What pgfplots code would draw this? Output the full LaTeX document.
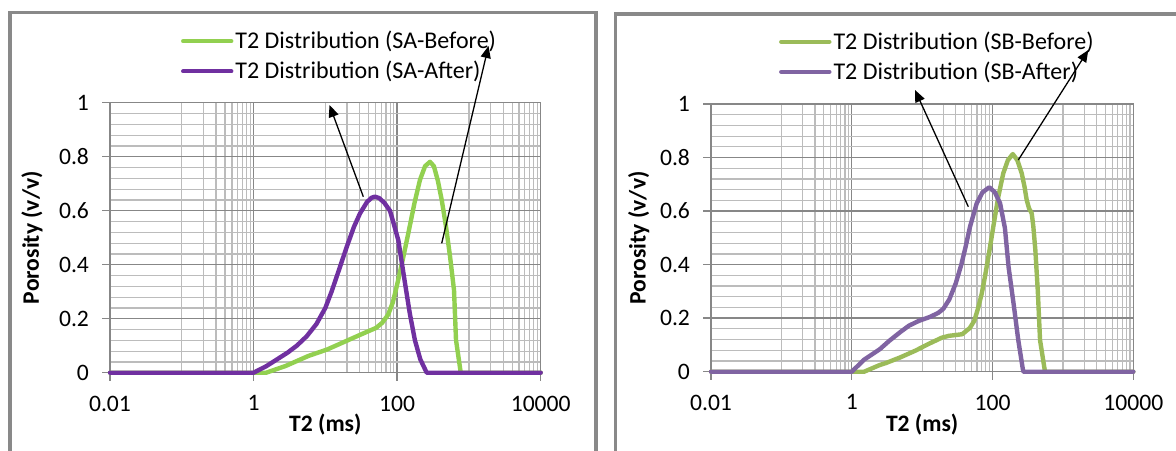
\documentclass[border=0pt]{standalone}
\usepackage{fontspec}
\setmainfont{Carlito}
\usepackage{pgfplots}
\pgfplotsset{compat=1.18}
\usetikzlibrary{arrows.meta}

\definecolor{gA}{HTML}{92D050}
\definecolor{pA}{HTML}{7030A0}
\definecolor{gB}{HTML}{9BBB59}
\definecolor{pB}{HTML}{8064A2}
\definecolor{majg}{HTML}{878787}
\definecolor{ming}{HTML}{BCBCBC}
\definecolor{frameg}{HTML}{898989}

\pgfplotsset{
  every axis/.append style={
    xmode=log, xmin=0.01, xmax=10000, ymin=0, ymax=1,
    scale only axis, clip=false,
    xtick={0.01,1,100,10000}, xticklabels={0.01,1,100,10000},
    minor xtick={0.1,0.2,0.3,0.4,0.5,0.6,0.7,0.8,0.9,10,20,30,40,50,60,70,80,90,1000,2000,3000,4000,5000,6000,7000,8000,9000},
    ytick={0,0.2,0.4,0.6,0.8,1}, minor y tick num=4,
    grid=both,
    major grid style={majg, line width=0.7pt},
    minor grid style={ming, line width=0.6pt},
    axis line style={majg, line width=0.7pt},
    major tick style={majg, line width=0.7pt}, major tick length=4pt, minor tick length=0pt,
    tick align=outside, tick pos=left,
    ticklabel style={font=\fontsize{11.8}{14}\selectfont},
    yticklabel style={/pgf/number format/fixed, /pgf/number format/assume math mode=true, xshift=-3pt},
    xticklabel style={yshift=-4pt},
    xlabel={T2 (ms)}, ylabel={Porosity (v/v)},
    label style={font=\fontsize{11.8}{14}\selectfont\bfseries},
    legend cell align=left,
  },
  every axis plot/.append style={line width=2.2pt, line cap=round, line join=round},
  legend image code/.code={\draw[#1, line cap=round] (0pt,0pt) -- (24pt,0pt);},
}

\begin{document}
\begin{tikzpicture}[x=1pt,y=1pt]
\path[use as bounding box] (0,0) rectangle (588,225);
\clip (0,0) rectangle (588,225);
\fill[white] (0,0) rectangle (588,225);

% ---------- Left panel ----------
\begin{axis}[
  at={(55pt,38.65pt)}, anchor=south west,
  width=215.35pt, height=135pt,
  x label style={at={(axis description cs:0.5,-0.193)}, anchor=center},
  y label style={at={(axis description cs:-0.181,0.5)}, anchor=center},
  legend style={at={(0.164,1.275)}, anchor=north west, draw=none, fill=none,
    inner sep=0pt, row sep=2.8pt, font=\fontsize{12}{14}\selectfont,
    nodes={inner sep=1pt}},
]
\addplot[gA] coordinates {
(0.01,0) (1.5,0) (2.8,0.025) (5.8,0.062) (10.6,0.086) (19.4,0.117) (35.5,0.148)
(51,0.166) (62,0.185) (75,0.215) (87,0.26) (98.6,0.319) (120,0.42) (143,0.516)
(175,0.63) (208,0.714) (245,0.765) (287,0.781) (325,0.765) (370,0.71) (418,0.64)
(480,0.54) (546,0.43) (620,0.306) (661,0.121) (769,0) (10000,0)};
\addlegendentry{T2 Distribution (SA-Before)}
\addplot[pA] coordinates {
(0.01,0) (1,0) (1.5,0.024) (2,0.045) (3,0.075) (4,0.1) (5.5,0.135) (7.5,0.18)
(10,0.24) (12.2,0.3) (15,0.37) (19.8,0.465) (25,0.54) (30.4,0.59) (38,0.632)
(44,0.648) (49,0.652) (56,0.647) (66,0.63) (79.5,0.6) (90,0.55) (104,0.49)
(129,0.33) (150,0.22) (177,0.12) (210,0.05) (258,0) (10000,0)};
\addlegendentry{T2 Distribution (SA-After)}
\end{axis}

% ---------- Right panel ----------
\begin{axis}[
  at={(355.5pt,39.15pt)}, anchor=south west,
  width=211.15pt, height=133.85pt,
  x label style={at={(axis description cs:0.5,-0.198)}, anchor=center},
  y label style={at={(axis description cs:-0.171,0.5)}, anchor=center},
  legend style={at={(0.1603,1.28)}, anchor=north west, draw=none, fill=none,
    inner sep=0pt, row sep=2.8pt, font=\fontsize{12}{14}\selectfont,
    nodes={inner sep=1pt}},
]
\addplot[gB] coordinates {
(0.01,0) (1.5,0) (2.5,0.025) (3.03,0.032) (4.94,0.054) (8.07,0.079) (12.4,0.104)
(19,0.127) (24,0.134) (30,0.137) (37,0.14) (47.5,0.163) (55,0.19) (62,0.235)
(70,0.29) (78,0.355) (90,0.45) (102.6,0.542) (120,0.65) (142,0.741) (165,0.79)
(194,0.813) (225,0.79) (260,0.741) (285,0.69) (306,0.641) (330,0.61) (360,0.592)
(380,0.542) (406,0.453) (440,0.3) (473,0.118) (556,0) (10000,0)};
\addlegendentry{T2 Distribution (SB-Before)}
\addplot[pB] coordinates {
(0.01,0) (1,0) (1.5,0.045) (2.5,0.084) (3.4,0.115) (5,0.15) (6.5,0.172) (9,0.19)
(13,0.205) (17,0.22) (20,0.235) (24.3,0.27) (30,0.33) (36,0.4) (41.4,0.466)
(47.9,0.542) (59.6,0.629) (72,0.67) (90,0.689) (108,0.67) (128,0.629) (150,0.536)
(169,0.391) (200,0.25) (232,0.118) (273,0) (10000,0)};
\addlegendentry{T2 Distribution (SB-After)}
\end{axis}

% ---------- frames ----------
\draw[frameg, line width=1.6pt] (5,-10) -- (5,218.65) -- (298,218.65) -- (298,-10);
\draw[frameg, line width=1.6pt] (307.65,-10) -- (307.65,218) -- (600,218);

% ---------- annotation arrows ----------
\draw[black, line width=0.65pt, -{Triangle[length=6pt,width=5pt]}] (181.65,126.65) -- (164.75,172.5);
\draw[black, line width=0.65pt, -{Triangle[length=6pt,width=5pt]}] (220.85,103.35) -- (244.25,202);
\draw[black, line width=0.65pt, -{Triangle[length=6pt,width=5pt]}] (484.15,121.65) -- (457.5,180);
\draw[black, line width=0.65pt, -{Triangle[length=6pt,width=5pt]}] (509.15,145) -- (544.15,200);
\end{tikzpicture}
\end{document}
